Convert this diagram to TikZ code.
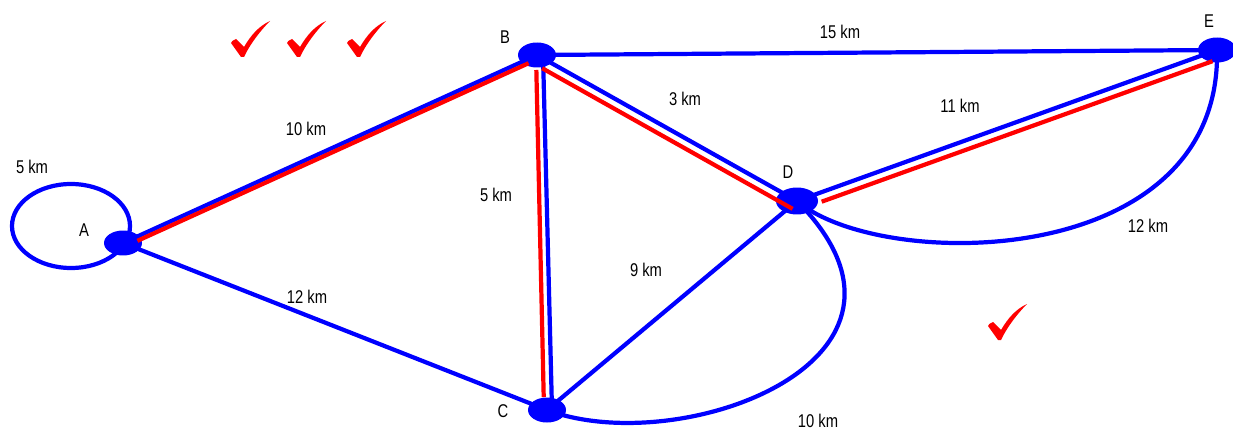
\documentclass[tikz,border=0pt]{standalone}
\usepackage{fontspec}
\setmainfont{Liberation Sans}[FakeStretch=0.8]
\usepackage{tikz}
\usetikzlibrary{
    calc,
    shapes.geometric
}

\begin{document}
\begin{tikzpicture}[
    x=0.02cm, y=-0.02cm,
    town/.style={
        ellipse,
        fill=blue,
        minimum width=0.76cm,
        minimum height=0.5cm,
        inner sep=0pt
    },
    road/.style={draw=blue, line width=2.4pt},
    route/.style={draw=red, line width=2.4pt},
    dist/.style={font=\fontsize{10.5}{12}\selectfont},
    tick/.pic={
        \fill[red] (0,0) -- (-10,-14) .. controls (-9,-16) .. (-5,-18)
            -- (3,-10) .. controls (10,-22) and (18,-31) .. (29,-36)
            .. controls (20,-27) and (9,-13) .. (3,0) -- cycle;
    }
]
\useasboundingbox (0,0) rectangle (1233,432);

% towns
\coordinate (A) at (123,243);
\coordinate (B) at (537,55);
\coordinate (C) at (547,410);
\coordinate (D) at (797,201);
\coordinate (E) at (1217,50);

% roads
\draw[road] ([shift={(-52,-17)}]A) ellipse [x radius=59, y radius=42];
\draw[road] (A) -- (B);
\draw[road] (A) -- (C);
\draw[road] ([xshift=0.12cm]B) -- ([xshift=0.1cm]C);
\draw[road] (B) -- (D);
\draw[road] (B) -- (E);
\draw[road] (C) -- (D);
\draw[road] (D) -- (E);
\draw[road] (C) .. controls (680,460) and (955,360) .. (D);
\draw[road] (D) .. controls (880,272) and (1222,272) .. (E);

\node[town] (nA) at (A) {};
\node[town] (nB) at (B) {};
\node[town] (nC) at (C) {};
\node[town, minimum width=0.84cm, minimum height=0.54cm] (nD) at (D) {};
\node[town] (nE) at (E) {};

% shortest route
\draw[route, shorten <=0.28cm, shorten >=0.22cm]
    ($(A)!0.08cm!-90:(B)$) -- ($(B)!0.08cm!90:(A)$);
\draw[route, shorten <=0.3cm, shorten >=0.26cm]
    ([xshift=-0.02cm]B) -- ([xshift=-0.06cm]C);
\draw[route, shorten <=0.22cm]
    ($(B)!0.18cm!-90:(D)$) -- ($(D)!0.18cm!90:(B)$);
\draw[route, shorten <=0.46cm, shorten >=0.16cm]
    ($(D)!0.18cm!-90:(E)$) -- ($(E)!0.18cm!90:(D)$);

% names
\node[dist] (labA) at (84,230) {A};
\node[dist] (labB) at (505,37) {B};
\node[dist] (labC) at (503,411) {C};
\node[dist] (labD) at (788,172) {D};
\node[dist] (labE) at (1209,21) {E};

% distances
\node[dist] (dAA) at (32,167) {5 km};
\node[dist] (dAB) at (306,129) {10 km};
\node[dist] (dAC) at (307,297) {12 km};
\node[dist] (dBC) at (496,195) {5 km};
\node[dist] (dCD) at (646,270) {9 km};
\node[dist] (dBD) at (685,99) {3 km};
\node[dist] (dBE) at (840,32) {15 km};
\node[dist] (dDE) at (960,106) {11 km};
\node[dist] (dDEarc) at (1148,226) {12 km};
\node[dist] (dCDarc) at (818,421) {10 km};

% ticks
\pic at (241,57) {tick};
\pic at (297,57) {tick};
\pic at (357,57) {tick};
\pic at (998,340) {tick};

\end{tikzpicture}
\end{document}
